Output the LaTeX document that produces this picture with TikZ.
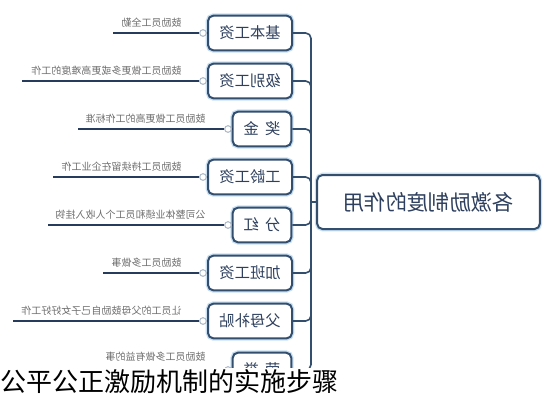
\documentclass[tikz,border=0pt]{standalone}
\usepackage{fontspec}
\setmainfont{Noto Sans CJK SC}
\usepackage{graphicx}

\definecolor{boxline}{RGB}{52,78,110}
\definecolor{boxglow}{RGB}{200,224,244}
\definecolor{boxtext}{RGB}{46,64,94}
\definecolor{leafline}{RGB}{38,60,92}
\definecolor{leaftext}{RGB}{110,110,110}
\definecolor{knobline}{RGB}{170,184,198}

\tikzset{every picture/.style={line width=0.75pt}}
\tikzset{
  mainbox/.style={draw=boxline, line width=1.5, rounded corners=4pt, fill=white,
    preaction={draw=boxglow, line width=3.5}, minimum width=167pt, minimum height=40.5pt,
    inner sep=0pt, text=boxtext, font=\fontsize{16}{18}\selectfont},
  wagebox/.style={draw=boxline, line width=1.5, rounded corners=4pt, fill=white,
    preaction={draw=boxglow, line width=3.5}, minimum width=63pt, minimum height=26pt,
    inner sep=0pt, text=boxtext, font=\fontsize{11.5}{13}\selectfont},
  shortbox/.style={wagebox, minimum width=44pt},
  knob/.style={circle, draw=knobline, fill=white, line width=0.75, minimum size=5pt, inner sep=0pt},
  leaf/.style={draw=leafline, line width=1.2},
  leafnote/.style={anchor=south east, inner sep=0.75pt, text=leaftext, font=\fontsize{7.5}{8}\selectfont},
  conn/.style={draw=boxline, line width=1.2, rounded corners=4pt},
}

\begin{document}
\begin{tikzpicture}[x=0.75pt,y=0.75pt,yscale=-1,xscale=1]
\path[use as bounding box] (0,0) rectangle (552,400);

%centre box
\node[mainbox] (main) at (428.5,202) {\reflectbox{各激励制度的作用}};
\coordinate (spine) at (311,202);
\draw[conn] (spine) -- (main.west);

%branch 1
\node[wagebox] (jiben) at (250,33) {\reflectbox{基本工资}};
\node[knob] (k1) at (203,33) {};
\coordinate (e1) at (113,33);
\draw[leaf] (e1) -- (k1);
\draw[leaf] (k1) -- (jiben.west);
\node[leafnote] (n1) at (183,29) {\reflectbox{鼓励员工全勤}};
\draw[conn] (jiben.east) -| (spine);

%branch 2
\node[wagebox] (jibie) at (250,81) {\reflectbox{级别工资}};
\node[knob] (k2) at (203,81) {};
\coordinate (e2) at (22,81);
\draw[leaf] (e2) -- (k2);
\draw[leaf] (k2) -- (jibie.west);
\node[leafnote] (n2) at (183,77) {\reflectbox{鼓励员工做更多或更高难度的工作}};
\draw[conn] (jibie.east) -| (spine);

%branch 3
\node[shortbox] (jiangjin) at (262,129) {\reflectbox{奖\hspace{0.4em}金}};
\node[knob] (k3) at (228,129) {};
\coordinate (e3) at (78,129);
\draw[leaf] (e3) -- (k3);
\draw[leaf] (k3) -- (jiangjin.west);
\node[leafnote] (n3) at (207,125) {\reflectbox{鼓励员工做更高的工作标准}};
\draw[conn] (jiangjin.east) -| (spine);

%branch 4
\node[wagebox] (gongling) at (250,177) {\reflectbox{工龄工资}};
\node[knob] (k4) at (203,177) {};
\coordinate (e4) at (53,177);
\draw[leaf] (e4) -- (k4);
\draw[leaf] (k4) -- (gongling.west);
\node[leafnote] (n4) at (183,173) {\reflectbox{鼓励员工持续留在企业工作}};
\draw[conn] (gongling.east) -| (spine);

%branch 5
\node[shortbox] (fenhong) at (262,225) {\reflectbox{分\hspace{0.4em}红}};
\node[knob] (k5) at (228,225) {};
\coordinate (e5) at (48,225);
\draw[leaf] (e5) -- (k5);
\draw[leaf] (k5) -- (fenhong.west);
\node[leafnote] (n5) at (207,221) {\reflectbox{公司整体业绩和员工个人收入挂钩}};
\draw[conn] (fenhong.east) -| (spine);

%branch 6
\node[wagebox] (jiaban) at (250,273) {\reflectbox{加班工资}};
\node[knob] (k6) at (203,273) {};
\coordinate (e6) at (103,273);
\draw[leaf] (e6) -- (k6);
\draw[leaf] (k6) -- (jiaban.west);
\node[leafnote] (n6) at (183,269) {\reflectbox{鼓励员工多做事}};
\draw[conn] (jiaban.east) -| (spine);

%branch 7
\node[wagebox] (fumu) at (250,321) {\reflectbox{父母补贴}};
\node[knob] (k7) at (203,321) {};
\coordinate (e7) at (13,321);
\draw[leaf] (e7) -- (k7);
\draw[leaf] (k7) -- (fumu.west);
\node[leafnote] (n7) at (183,317) {\reflectbox{让员工的父母鼓励自己子女好好工作}};
\draw[conn] (fumu.east) -| (spine);

%branch 8 (cut off by the caption)
\node[shortbox] (rongyu) at (262,370) {\reflectbox{荣\hspace{0.4em}誉}};
\node[knob] (k8) at (228,370) {};
\coordinate (e8) at (98,370);
\draw[leaf] (e8) -- (k8);
\draw[leaf] (k8) -- (rongyu.west);
\node[leafnote] (n8) at (207,363) {\reflectbox{鼓励员工多做有益的事}};
\draw[conn] (rongyu.east) -| (spine);

%caption strip
\fill[white] (0,368) rectangle (552,400);
\node[anchor=west, inner sep=0pt, font=\fontsize{19.5}{21}\selectfont] (caption) at (0,382) {公平公正激励机制的实施步骤};
\end{tikzpicture}
\end{document}
